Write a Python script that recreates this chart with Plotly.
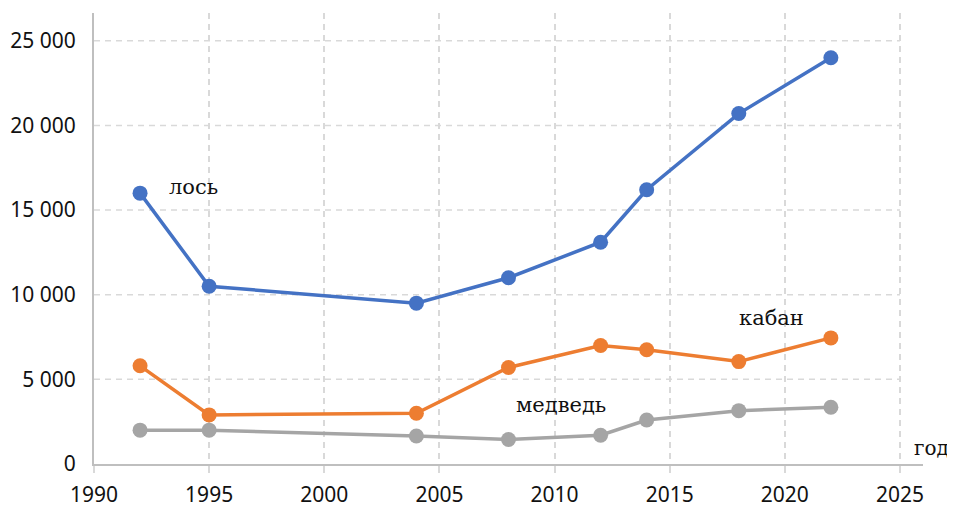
import plotly.graph_objects as go

years = [1992, 1995, 2004, 2008, 2012, 2014, 2018, 2022]
los = [16000, 10500, 9500, 11000, 13100, 16200, 20700, 24000]
kaban = [5800, 2900, 3000, 5700, 7000, 6750, 6050, 7450]
medved = [2000, 2000, 1650, 1450, 1700, 2600, 3150, 3350]

series_names = ["лось", "кабан", "медведь"]
series_colors = ["#4472C4", "#ED7D31", "#A5A5A5"]

x_ticks = [1990, 1995, 2000, 2005, 2010, 2015, 2020, 2025]
y_ticks = [0, 5000, 10000, 15000, 20000, 25000]
y_ticktext = ["0", "5 000", "10 000", "15 000", "20 000", "25 000"]

# label positions (data coords)
label_pos = {"лось": (1994.3, 16350), "кабан": (2019.4, 8620), "медведь": (2010.3, 3480)}

fig = go.Figure()
for name, vals, col in zip(series_names, [los, kaban, medved], series_colors):
    fig.add_trace(go.Scatter(x=years, y=vals, mode="lines+markers", name=name,
                             line=dict(color=col, width=3.5),
                             marker=dict(color=col, size=15),
                             showlegend=False))

# horizontal dashed gridlines ending at 2025
for yv in y_ticks[1:]:
    fig.add_shape(type="line", xref="x", yref="y", x0=1990, x1=2025, y0=yv, y1=yv,
                  line=dict(color="#D9D9D9", width=1.5, dash="6px,5px"), layer="below")

for name in series_names:
    xx, yy = label_pos[name]
    fig.add_annotation(x=xx, y=yy, text=name, showarrow=False, xref="x", yref="y",
                       font=dict(family="DejaVu Serif", size=21, color="#111111"))

# axis title placed at the right end of the x axis
fig.add_annotation(x=1.0105, y=0.036, text="год", showarrow=False, xref="paper", yref="paper",
                   xanchor="center", yanchor="middle",
                   font=dict(family="DejaVu Serif", size=20, color="#111111"))

# the page body adds an 8px offset, so margins are shifted accordingly
fig.update_layout(
    width=955, height=505,
    margin=dict(l=86, r=40, t=5, b=49),
    paper_bgcolor="white", plot_bgcolor="white",
    font=dict(family="Noto Sans", size=21, color="#111111"),
)
fig.update_xaxes(range=[1990, 2026], tickvals=x_ticks, showgrid=True,
                 gridcolor="#D9D9D9", griddash="6px,5px", gridwidth=1.5,
                 showline=True, linecolor="#BFBFBF", linewidth=2,
                 ticks="outside", ticklen=7, tickcolor="#D9D9D9", tickwidth=1.5,
                 ticklabelstandoff=4, zeroline=False, automargin=False)
fig.update_yaxes(range=[0, 26640], tickvals=y_ticks, ticktext=y_ticktext,
                 showgrid=False, showline=True, linecolor="#BFBFBF", linewidth=2,
                 ticks="", ticklabelstandoff=12, zeroline=False, automargin=False)

fig.write_html("out.html")
